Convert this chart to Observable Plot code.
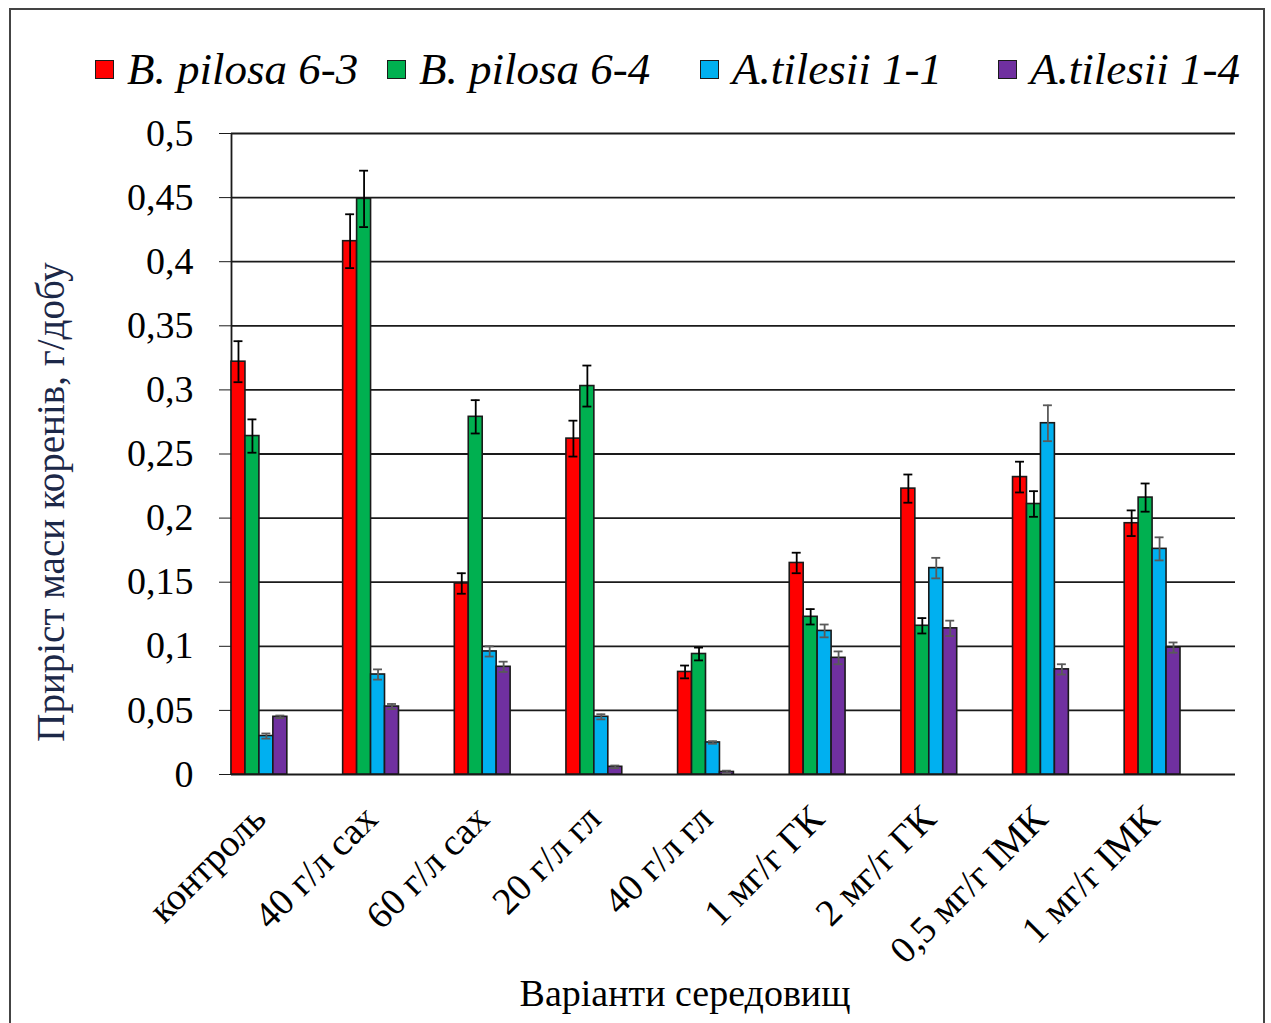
<!DOCTYPE html>
<html>
<head>
<meta charset="utf-8">
<script src="https://cdn.jsdelivr.net/npm/d3@7"></script>
<script src="https://cdn.jsdelivr.net/npm/@observablehq/plot@0.6"></script>
<style>
  html, body { margin: 0; padding: 0; background: #fff; overflow: hidden; width: 1271px; height: 1023px; }
  body { position: relative; font-family: "Liberation Serif", "Times New Roman", serif; color: #000; }
  #frame { position: absolute; left: 9px; top: 8px; width: 1256px; height: 1040px; border: 2px solid #444; box-sizing: border-box; }
  .leg { position: absolute; top: 44px; display: flex; align-items: center; font-family: "Liberation Serif", "Times New Roman", serif; font-style: italic; font-size: 45px; line-height: 50px; white-space: nowrap; }
  .sw { width: 17px; height: 17px; border: 1.5px solid #1a1a1a; margin-right: 13px; box-sizing: content-box; }
  #chart { position: absolute; left: 0; top: 110px; }
  #ytitle { position: absolute; left: 50px; top: 502px; transform: translate(-50%, -50%) rotate(-90deg); white-space: nowrap; font-size: 39px; color: #1c2848; }
  #xtitle { position: absolute; left: 685px; top: 993px; transform: translate(-50%, -50%); white-space: nowrap; font-size: 38px; }
</style>
</head>
<body>
<div id="frame"></div>
<div id="legend"></div>
<div id="ytitle">Приріст маси коренів, г/добу</div>
<div id="chart"></div>
<div id="xtitle">Варіанти середовищ</div>
<script>
// ---- data ----
const categories = ["контроль", "40 г/л сах", "60 г/л сах", "20 г/л гл", "40 г/л гл", "1 мг/г ГК", "2 мг/г ГК", "0,5 мг/г ІМК", "1 мг/г ІМК"];
const seriesNames = ["B. pilosa 6-3", "B. pilosa 6-4", "A.tilesii 1-1", "A.tilesii 1-4"];
const pilosa63 = [0.322, 0.416, 0.149, 0.262, 0.080, 0.165, 0.223, 0.232, 0.196];
const pilosa63Err = [0.016, 0.021, 0.008, 0.014, 0.005, 0.008, 0.011, 0.012, 0.010];
const pilosa64 = [0.264, 0.449, 0.279, 0.303, 0.094, 0.123, 0.116, 0.211, 0.216];
const pilosa64Err = [0.013, 0.022, 0.013, 0.016, 0.005, 0.006, 0.006, 0.010, 0.011];
const tilesii11 = [0.030, 0.078, 0.096, 0.045, 0.025, 0.112, 0.161, 0.274, 0.176];
const tilesii11Err = [0.002, 0.004, 0.004, 0.002, 0.001, 0.005, 0.008, 0.014, 0.009];
const tilesii14 = [0.045, 0.053, 0.084, 0.006, 0.002, 0.091, 0.114, 0.082, 0.099];
const tilesii14Err = [0.001, 0.002, 0.004, 0.001, 0.001, 0.005, 0.006, 0.004, 0.004];
const yTicks = [0, 0.05, 0.1, 0.15, 0.2, 0.25, 0.3, 0.35, 0.4, 0.45, 0.5];
const yTickLabels = ["0", "0,05", "0,1", "0,15", "0,2", "0,25", "0,3", "0,35", "0,4", "0,45", "0,5"];

// ---- styles ----
const colors = ["#ff0000", "#00b050", "#00b0f0", "#7030a0"];
const errColors = ["#000000", "#000000", "#5a5a5a", "#5a5a5a"];
const legendLeft = [95, 387, 700, 998];

// ---- legend ----
const legend = document.getElementById("legend");
seriesNames.forEach((name, i) => {
  const item = document.createElement("div");
  item.className = "leg";
  item.style.left = legendLeft[i] + "px";
  const sw = document.createElement("div");
  sw.className = "sw";
  sw.style.background = colors[i];
  const t = document.createElement("span");
  t.textContent = name;
  item.appendChild(sw);
  item.appendChild(t);
  legend.appendChild(item);
});

// ---- chart ----
const values = [pilosa63, pilosa64, tilesii11, tilesii14];
const errors = [pilosa63Err, pilosa64Err, tilesii11Err, tilesii14Err];
const rows = categories.flatMap((c, j) => seriesNames.map((s, i) => ({
  cat: c, series: s, i, value: values[i][j], err: errors[i][j]
})));

const W = 1271, H = 860;
const xStart = 231, xEnd = 1180;
const step = (xEnd - xStart) / (categories.length - 0.5);
const bw = step * 0.5;
const barW = bw / 4;
const capInset = 2.5;

const marks = [
  Plot.ruleY(yTicks, {stroke: "#1a1a1a", strokeWidth: 1.8}),
  Plot.ruleX([categories[0]], {dx: -bw / 2, stroke: "#1a1a1a", strokeWidth: 1.8}),
  Plot.axisY({ticks: yTicks, tickFormat: (d) => yTickLabels[yTicks.indexOf(d)], tickSize: 12, tickPadding: 26, label: null, fontSize: 38, stroke: "#1a1a1a"}),
  Plot.axisX({tickRotate: -45, tickSize: 0, tickPadding: 38, label: null, fontSize: 38})
];
seriesNames.forEach((s, i) => {
  const data = rows.filter((d) => d.i === i);
  marks.push(Plot.barY(data, {
    x: "cat", y: "value", fill: colors[i], stroke: "#1a1a1a", strokeWidth: 1.6,
    insetLeft: i * barW, insetRight: (3 - i) * barW
  }));
});
seriesNames.forEach((s, i) => {
  const data = rows.filter((d) => d.i === i);
  const dx = (i + 0.5) * barW - bw / 2;
  marks.push(Plot.ruleX(data, {x: "cat", y1: (d) => d.value - d.err, y2: (d) => d.value + d.err, dx, stroke: errColors[i], strokeWidth: 1.8}));
  marks.push(Plot.tickY(data, {x: "cat", y: (d) => d.value + d.err, stroke: errColors[i], strokeWidth: 1.8, insetLeft: i * barW + capInset, insetRight: (3 - i) * barW + capInset}));
  marks.push(Plot.tickY(data, {x: "cat", y: (d) => d.value - d.err, stroke: errColors[i], strokeWidth: 1.8, insetLeft: i * barW + capInset, insetRight: (3 - i) * barW + capInset}));
});

const chart = Plot.plot({
  width: W,
  height: H,
  marginTop: 23,
  marginBottom: 196,
  marginLeft: 231,
  marginRight: 36,
  style: {fontFamily: "'Liberation Serif', 'Times New Roman', serif", fontSize: "38px", color: "#000", background: "transparent", overflow: "visible"},
  x: {domain: categories, range: [xStart, xEnd], paddingInner: 0.5, paddingOuter: 0, round: false, axis: null},
  y: {domain: [0, 0.5], axis: null},
  marks
});
document.getElementById("chart").appendChild(chart);
</script>
</body>
</html>
